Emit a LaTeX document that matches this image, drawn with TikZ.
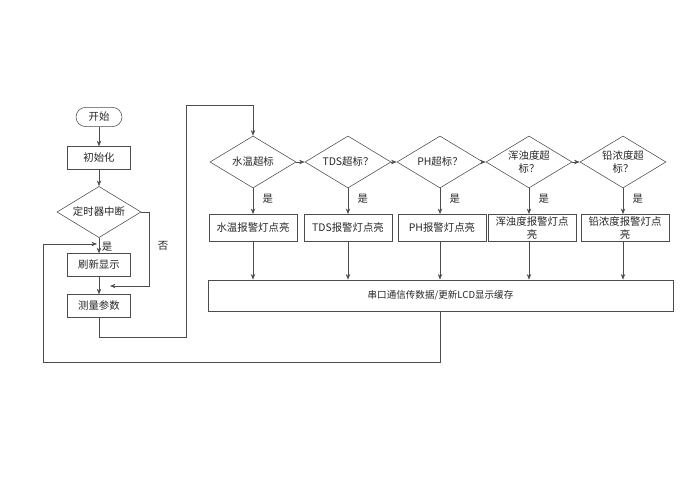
\documentclass[tikz,border=0pt]{standalone}
\usepackage{fontspec}
\setmainfont{Noto Sans CJK SC}
\usetikzlibrary{shapes.geometric,arrows.meta}

\begin{document}
\begin{tikzpicture}[x=0.025cm,y=-0.025cm,
  proc/.style={rectangle,draw=black!70,minimum width=1.58cm,minimum height=0.57cm,
               align=center,inner sep=1pt,font=\fontsize{7.4}{8.6}\selectfont,text=black!85},
  alarm/.style={proc,minimum width=2.2cm,minimum height=0.68cm},
  term/.style={rectangle,draw=black!70,rounded corners=0.24cm,minimum width=1.15cm,
               minimum height=0.48cm,inner sep=1pt,font=\fontsize{7.4}{8.6}\selectfont,text=black!85},
  test/.style={diamond,draw=black!70,minimum width=2.15cm,minimum height=1.3cm,inner sep=0pt},
  lbl/.style={font=\fontsize{7.4}{8.6}\selectfont,text=black!85,inner sep=1pt,align=center},
  arr/.style={-{Stealth[length=1.4mm,width=1.1mm]},draw=black!70,thin},
  line/.style={draw=black!70,thin}
]
\useasboundingbox (0,0) rectangle (693,497);

% main loop
\node[term] (start) at (99,117) {开始};
\node[proc] (init)  at (99,158) {初始化};
\node[test,minimum width=2.1cm,minimum height=1.28cm,
      label={[lbl]center:定时器中断}] (timer) at (99,212) {};
\node[proc] (disp)  at (99,265) {刷新显示};
\node[proc] (meas)  at (99,306) {测量参数};

% checks
\node[test,label={[lbl]center:水温超标}] (dtemp) at (253,162) {};
\node[test,label={[lbl]center:TDS超标？}] (dtds) at (348,162) {};
\node[test,label={[lbl]center:PH超标？}] (dph) at (440,162) {};
\node[test,label={[lbl]center:浑浊度超\\标？}] (dturb) at (529,162) {};
\node[test,label={[lbl]center:铅浓度超\\标？}] (dlead) at (623,162) {};

\node[alarm] (atemp) at (253,228) {水温报警灯点亮};
\node[alarm] (atds)  at (348,228) {TDS报警灯点亮};
\node[alarm] (aph)   at (442,228) {PH报警灯点亮};
\node[alarm] (aturb) at (532,228) {浑浊度报警灯点\\亮};
\node[alarm] (alead) at (625,228) {铅浓度报警灯点\\亮};

\node[proc,minimum width=11.63cm,minimum height=0.78cm,font=\fontsize{6.8}{8}\selectfont] (bus) at (440.5,295.5) {串口通信传数据/更新LCD显示缓存};

\draw[arr] (start) -- (init);
\draw[arr] (init) -- (timer);
\draw[arr] (timer) -- (disp);
\draw[arr] (disp) -- (meas);
\node[lbl] (yes0) at (107,247) {是};
\node[lbl] (no0)  at (163,246) {否};

\coordinate (nr) at (149,286);
\coordinate (ne) at (110,286);
\draw[arr] (timer.east) -| (nr) -- (ne);

\coordinate (c1) at (186,337);
\coordinate (c2) at (186,105);
\draw[arr] (meas.south) |- (c1) -- (c2) -| (dtemp.north);

\foreach \a/\b in {dtemp/dtds,dtds/dph,dph/dturb,dturb/dlead}
  \draw[arr] (\a.east) -- (\b.west);

\foreach \d/\a in {dtemp/atemp,dtds/atds,dph/aph,dturb/aturb,dlead/alead}{
  \draw[arr] (\d.south) -- (\d.south |- \a.north);
  \node[lbl,anchor=west] at ([xshift=0.2cm,yshift=-0.25cm]\d.south) {是};
  \draw[arr] (\d.south |- \a.south) -- (\d.south |- bus.north);
}

\coordinate (c3) at (43,362);
\coordinate (c4) at (43,244);
\coordinate (c5) at (97,244);
\draw[arr] (bus.south) |- (c3) -- (c4) -- (c5);
\end{tikzpicture}
\end{document}
